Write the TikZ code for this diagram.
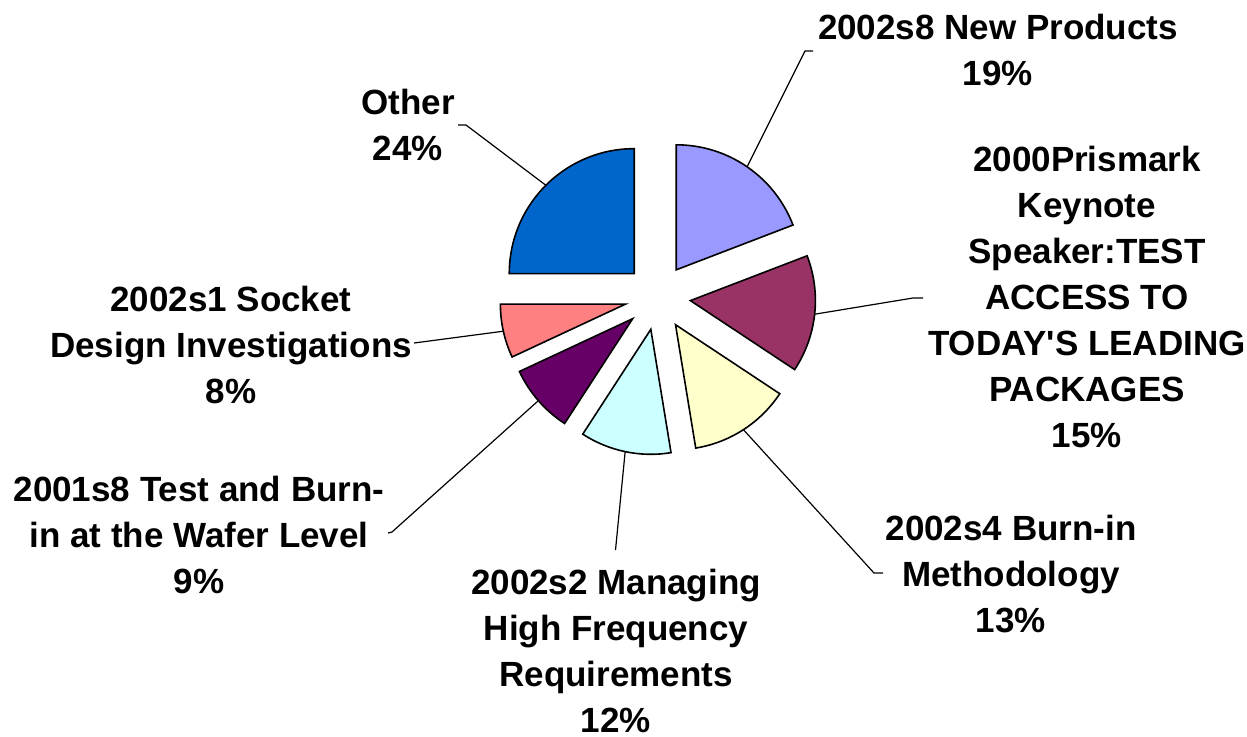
\documentclass[tikz,border=0pt]{standalone}
\usepackage{fontspec}
\setmainfont{Liberation Sans}
\usetikzlibrary{calc}
\definecolor{other}{HTML}{0066CC}
\definecolor{newprod}{HTML}{9999FF}
\definecolor{prismark}{HTML}{993366}
\definecolor{burnin}{HTML}{FFFFCC}
\definecolor{managing}{HTML}{CCFFFF}
\definecolor{waferlvl}{HTML}{660066}
\definecolor{socket}{HTML}{FF8080}

\begin{document}
\begin{tikzpicture}[x=0.5pt, y=-0.5pt,
    slice/.style={draw=black, line width=0.8pt, line join=miter},
    leader/.style={draw=black, line width=0.6pt},
    lbl/.style={align=center, inner sep=0pt, anchor=base,
      font=\fontsize{17.5}{23}\selectfont\bfseries}]
  \useasboundingbox (0,0) rectangle (1247,736);

  %% Exploded pie
  \coordinate (C) at (657.6,297);
  \foreach \a/\b/\col/\n in {-90/-21/newprod/sNew, -21/33.5/prismark/sPris,
      33.5/80.7/burnin/sBurn, 80.7/123/managing/sManag, 123/155/waferlvl/sTest,
      155/180/socket/sSock, 180/270/other/sOther}
  {%
    \coordinate (\n) at ($(C)+({(\a+\b)/2}:33)$);
    \draw[slice, fill=\col] (\n) -- ++(\a:125) arc[start angle=\a, end angle=\b, radius=125] -- cycle;
    \coordinate (\n-arc) at ($(\n)+({(\a+\b)/2}:125)$);
  }

  %% Labels (anchored at the baseline of their last line)
  \node[lbl] (lblNew) at (998,85) {2002s8 New Products\\19\%};
  \node[lbl] (lblPris) at (1087,447) {2000Prismark\\Keynote\\Speaker:TEST\\ACCESS TO\\TODAY\textquotesingle S LEADING\\PACKAGES\\15\%};
  \node[lbl] (lblBurn) at (1011,632) {2002s4 Burn-in\\Methodology\\13\%};
  \node[lbl] (lblManag) at (616,732) {2002s2 Managing\\High Frequency\\Requirements\\12\%};
  \node[lbl] (lblTest) at (199,593) {2001s8 Test and Burn-\\in at the Wafer Level\\9\%};
  \node[lbl] (lblSock) at (231,403) {2002s1 Socket\\Design Investigations\\8\%};
  \node[lbl] (lblOther) at (408,160) {Other\\24\%};

  %% Leader lines
  \coordinate (kNew) at (805,51);     \coordinate (eNew) at (813,51);
  \coordinate (kPris) at (913,298);   \coordinate (ePris) at (923,298);
  \coordinate (kBurn) at (874,573);   \coordinate (eBurn) at (883,573);
  \coordinate (kTest) at (392,532);   \coordinate (eTest) at (388,533);
  \coordinate (kOther) at (466,125);  \coordinate (eOther) at (458,125);
  \coordinate (eManag) at (615.5,550);
  \coordinate (eSock) at (414,343);
  \foreach \n in {New, Pris, Burn, Test, Other}
    \draw[leader] (s\n-arc) -- (k\n) -- (e\n);
  \draw[leader] (sManag-arc) -- (eManag);
  \draw[leader] (sSock-arc) -- (eSock);
\end{tikzpicture}
\end{document}
